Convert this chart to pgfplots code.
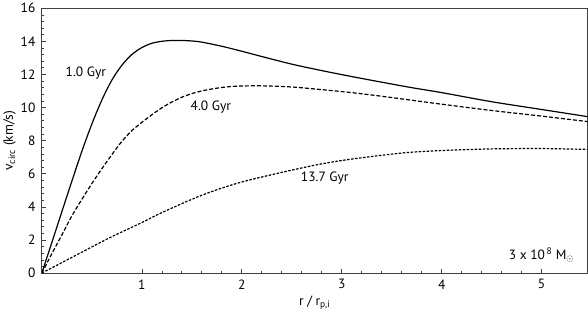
\documentclass[border=0pt]{standalone}
\usepackage{pgfplots}
\pgfplotsset{compat=1.18}
\usepackage{fontspec}
\setmainfont{PT Sans}
\begin{document}
\begin{tikzpicture}
\begin{axis}[
  scale only axis,
  width=546bp, height=265bp,
  xmin=0, xmax=5.46, ymin=0, ymax=16,
  xtick={1,2,3,4,5}, ytick={0,2,...,16},
  minor x tick num=4, minor y tick num=4,
  xtick pos=bottom, ytick pos=left,
  tick align=inside,
  major tick length=4bp, minor tick length=2.5bp,
  axis line style={draw=black!75, line width=0.8bp},
  every tick/.style={black!75, line width=0.6bp},
  /pgf/number format/assume math mode=true,
  tick label style={font=\fontsize{13.5}{15}\selectfont},
  label style={font=\fontsize{13.5}{15}\selectfont},
  xticklabel style={yshift=-3bp},
  yticklabel style={xshift=-3bp},
  xlabel={r / r\textsubscript{p,i}},
  ylabel={v\textsubscript{circ} (km/s)},
  xlabel style={yshift=0bp},
  ylabel style={yshift=-2bp},
  clip=true,
]
\addplot[black, line width=1.2bp, smooth] coordinates {
(0,0) (0.1,1.85) (0.2,3.7) (0.3,5.55) (0.4,7.35) (0.5,9.0) (0.6,10.45) (0.7,11.65)
(0.8,12.55) (0.9,13.2) (1.0,13.62) (1.1,13.88) (1.2,14.0) (1.3,14.05) (1.4,14.05)
(1.5,14.02) (1.6,13.95) (1.8,13.7) (2.0,13.4) (2.2,13.08) (2.5,12.62) (2.8,12.23)
(3.1,11.87) (3.4,11.53) (3.7,11.2) (4.0,10.9) (4.5,10.35) (5.0,9.88) (5.46,9.45)};
\addplot[black, line width=1.2bp, smooth, dash pattern=on 4bp off 2bp] coordinates {
(0,0) (0.1,1.17) (0.2,2.3) (0.3,3.45) (0.4,4.45) (0.5,5.4) (0.6,6.3) (0.7,7.15)
(0.8,7.95) (0.9,8.6) (1.0,9.1) (1.1,9.56) (1.2,9.98) (1.3,10.33) (1.4,10.62)
(1.5,10.84) (1.6,11.0) (1.7,11.12) (1.8,11.21) (1.9,11.27) (2.0,11.3) (2.2,11.31)
(2.5,11.24) (2.8,11.08) (3.1,10.9) (3.4,10.68) (3.7,10.44) (4.0,10.2) (4.5,9.82)
(5.0,9.48) (5.46,9.15)};
\addplot[black, line width=1.2bp, smooth, dash pattern=on 2.5bp off 1.5bp] coordinates {
(0,0) (0.333,1.05) (0.667,2.1) (1.0,3.05) (1.2,3.65) (1.6,4.7) (2.0,5.5)
(2.6,6.35) (3.0,6.8) (3.6,7.25) (4.0,7.4) (4.5,7.5) (5.0,7.52) (5.46,7.47)};
\node[font=\fontsize{13.5}{15}\selectfont] at (axis cs:0.44,12.1) {1.0 Gyr};
\node[font=\fontsize{13.5}{15}\selectfont] at (axis cs:1.69,10.0) {4.0 Gyr};
\node[font=\fontsize{13.5}{15}\selectfont] at (axis cs:2.83,5.76) {13.7 Gyr};
\node[font=\fontsize{13.5}{15}\selectfont, anchor=east] at (axis cs:5.36,1.1) {3 x 10\textsuperscript{\,8} M$_{\odot}$};
\end{axis}
\end{tikzpicture}
\end{document}
